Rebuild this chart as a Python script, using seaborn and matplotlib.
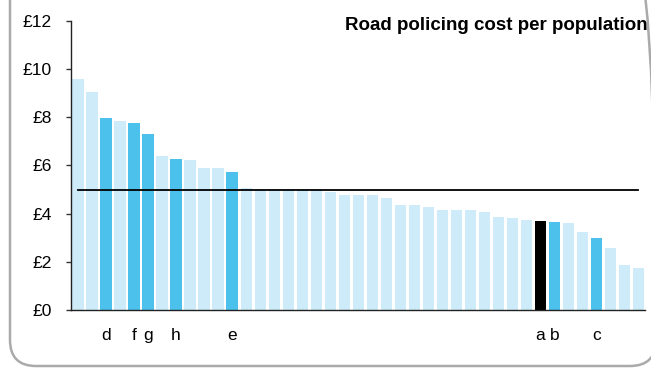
import matplotlib
matplotlib.use("Agg")
import matplotlib.pyplot as plt
import matplotlib.patches as mpatches
import matplotlib.transforms as mtransforms
import seaborn as sns
import pandas as pd

# Road policing cost per population (GBP), sorted high to low
costs = [9.58, 9.03, 7.97, 7.84, 7.76, 7.30, 6.39, 6.27, 6.22, 5.89,
         5.89, 5.73, 5.08, 5.02, 5.01, 5.01, 5.00, 5.00, 4.90, 4.79,
         4.79, 4.76, 4.63, 4.37, 4.34, 4.27, 4.15, 4.15, 4.15, 4.07,
         3.86, 3.80, 3.73, 3.69, 3.64, 3.61, 3.24, 2.97, 2.56, 1.87,
         1.73]
# bar labels shown under the axis (blank = unlabelled force)
labels = ["", "", "d", "", "f", "g", "", "h", "", "",
          "", "e", "", "", "", "", "", "", "", "",
          "", "", "", "", "", "", "", "", "", "",
          "", "", "", "a", "b", "", "", "c", "", "",
          ""]
# colour group of each bar
groups = ["other"] * len(costs)
for i, lab in enumerate(labels):
    if lab == "a":
        groups[i] = "selected"
    elif lab:
        groups[i] = "peer"
average = 4.97

palette = {"other": "#CDEBF8", "peer": "#4BC1EB", "selected": "#000000"}

df = pd.DataFrame({"pos": range(len(costs)), "cost": costs, "group": groups})

plt.rcParams["font.family"] = ["Liberation Sans", "DejaVu Sans"]

fig = plt.figure(figsize=(6.51, 3.68), dpi=100)
ax = fig.add_axes([0.109, 0.158, 0.8825, 0.785])

sns.barplot(data=df, x="pos", y="cost", hue="group", palette=palette,
            dodge=False, legend=False, width=0.8, saturation=1, ax=ax)

ax.plot([0, len(costs) - 1], [average, average], color="black", lw=1.3)

ax.set_xlim(-0.5, len(costs) - 0.5)
ax.set_ylim(0, 12)
ax.set_yticks(range(0, 13, 2))
ax.set_yticklabels(["£%d" % v for v in range(0, 13, 2)], fontsize=12.5)
ax.set_xticks(range(len(costs)))
ax.set_xticklabels(labels, fontsize=12.5)
ax.tick_params(axis="x", length=0, pad=13)
ax.tick_params(axis="y", length=3.5, width=1, pad=10.5, color="#333333")
ax.set_xlabel("")
ax.set_ylabel("")
for s in ["top", "right"]:
    ax.spines[s].set_visible(False)
for s in ["left", "bottom"]:
    ax.spines[s].set_color("#222222")
    ax.spines[s].set_linewidth(1)

ax.text(1.003, 0.985, "Road policing cost per population", transform=ax.transAxes,
        ha="right", va="center", fontsize=13.5, fontweight="bold")

# rounded frame around the whole chart
frame = mpatches.FancyBboxPatch((10, 2), 646, 420,
                                boxstyle="round,pad=0,rounding_size=26",
                                transform=mtransforms.IdentityTransform(),
                                fill=False, edgecolor="#AAAAAA", lw=1.8,
                                clip_on=False)
fig.patches.append(frame)

fig.savefig("out.png", dpi=100)
